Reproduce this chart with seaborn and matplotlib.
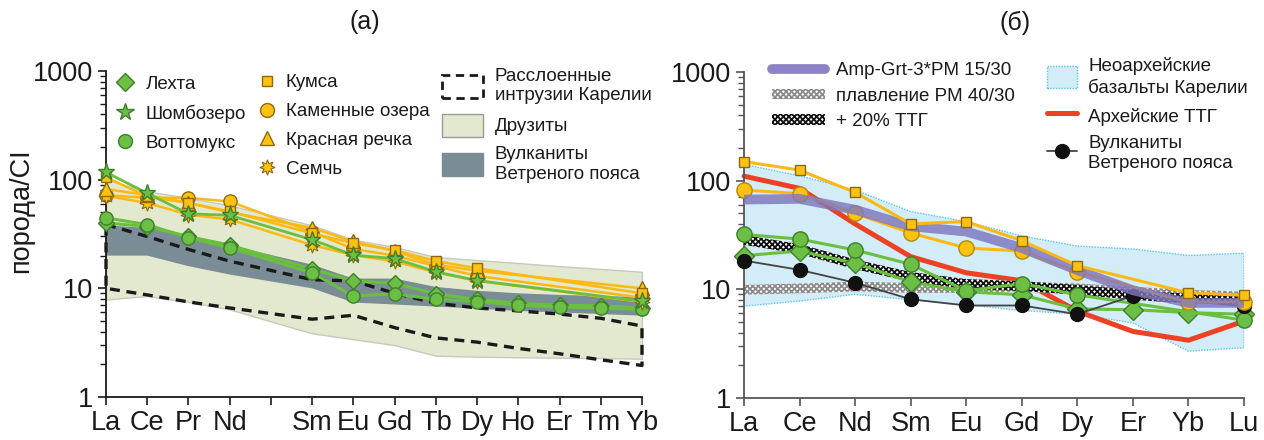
import numpy as np
import pandas as pd
import matplotlib
matplotlib.use("Agg")
import matplotlib.pyplot as plt
import seaborn as sns
from matplotlib.lines import Line2D
from matplotlib.patches import Patch
from matplotlib.ticker import LogLocator, NullFormatter, FixedLocator, FixedFormatter

nan = np.nan

# ---------------- data: panel (a) ----------------
left_elements = ['La', 'Ce', 'Pr', 'Nd', 'Pm', 'Sm', 'Eu', 'Gd', 'Tb', 'Dy', 'Ho', 'Er', 'Tm', 'Yb']
left_tick_labels = ['La', 'Ce', 'Pr', 'Nd', '', 'Sm', 'Eu', 'Gd', 'Tb', 'Dy', 'Ho', 'Er', 'Tm', 'Yb']

lekhta = [40, 37, 30, 25, nan, 15, 11.7, 11.1, 8.9, 7.9, 7.3, 7.0, 6.9, 6.6]
vottomuks = [44.5, 38.6, 29.2, 23.6, nan, 13.9, 8.5, 8.9, 7.9, 7.55, 7.0, 6.7, 6.6, 6.4]
shombozero = [117, 75, 48.5, 47, nan, 28, 20.2, 18.8, 14.2, 11.8, nan, nan, nan, 7.6]
kumsa = [105, 70, 61, 51, nan, 32, 26, 22.5, 17.8, 15.3, nan, nan, nan, 9.0]
kamennye = [72, 68, 68, 63, nan, 33, 23, 20, 16, 13, nan, nan, nan, 8.2]
krasnaya = [82, 72, 61, 50, nan, 36, 27, 22, 16.5, 14.5, nan, nan, nan, 10]
semch = [71, 61, 47.6, 43, nan, 25, 20.2, 17.7, 14, 11.7, nan, nan, nan, 7.5]

druzite_upper = [100, 78, 68, 58, nan, 38, 28, 24, 19.4, 18.2, 17.1, 16.0, 15.1, 14.2]
druzite_lower = [7.9, 8.5, 7.5, 6.4, nan, 3.85, 3.4, 3.0, 2.4, 2.35, 2.32, 2.3, 2.28, 2.25]
volc_upper = [38, 36, 30, 25, nan, 16.5, 12.3, 12.3, 10.3, 9.5, 9.0, 8.7, 8.5, 8.3]
volc_lower = [20, 20, 16, 13.4, nan, 10, 7.4, 7.1, 6.8, 6.5, 6.2, 6.0, 5.8, 5.6]
layered_upper = [38.6, 30, 22.8, 17.8, nan, 12, 11.7, 9, 7.3, 6.6, 6.2, 5.8, 5.3, 4.5]
layered_lower = [10, 8.7, 7.5, 6.6, nan, 5.2, 5.65, 4.35, 3.5, 3.2, 2.8, 2.5, 2.2, 1.95]

# ---------------- data: panel (б) ----------------
right_elements = ['La', 'Ce', 'Nd', 'Sm', 'Eu', 'Gd', 'Dy', 'Er', 'Yb', 'Lu']

r_kumsa = [150, 125, 78, 40, 42, 28, 16.5, nan, 9.3, 8.8]
r_kamennye = [82, 76, 50, 33, 24, 22.5, 14.5, nan, 7.6, 7.7]
r_ttg = [110, 85, 40, 20, 14.2, 12, 6.3, 4.1, 3.4, 5.1]
r_amp = [67, 68, 54, 38, 34, 24, 15, 9.8, 7.5, 7.5]
r_pm_melt = [9.9, 10.2, 10.6, 10.3, 10.3, 10.6, 10.2, 9.5, 8.9, 8.6]
r_ttg20 = [28.5, 23.5, 17, 13, 11.2, 10.7, 9.9, 8.9, 8.2, 8.1]
r_green_circ = [32, 29, 23, 17, 9.7, 11.3, 8.9, nan, nan, 5.2]
r_green_diam = [20.4, 22.5, 17.4, 11.7, 9.5, 8.9, 6.6, 6.5, 6.1, 5.9]
r_volc = [18.4, 15.1, 11.5, 8.1, 7.1, 7.1, 5.9, 8.7, nan, 7.0]
r_basalt_upper = [141, 111, 82, 52, 42, 31, 25, 23.5, 20.5, 21.5]
r_basalt_lower = [7.0, 7.8, 9.0, 8.0, 7.2, 6.4, 5.9, 4.9, 2.7, 2.9]

ytick_values = [1, 10, 100, 1000]
ytick_labels = ['1', '10', '100', '1000']

# ---------------- style ----------------
sns.set_style("ticks")
plt.rcParams['font.family'] = ['Liberation Sans', 'DejaVu Sans']
plt.rcParams['hatch.linewidth'] = 1.3

GREEN = '#6cbf45'
GREEN_E = '#3d7f2a'
GREEN_L = '#6abf3f'
ORANGE = '#fdb913'
ORANGE_M = '#ffc20e'
ORANGE_E = '#8a6a10'
RED = '#ee4123'
PURPLE = '#7f76bf'
BLUE_F = '#d2ecf8'
BLUE_E = '#5cc3ee'
DRUZ = '#e3e9cf'
DRUZ_E = '#c6c9c0'
DARK = '#7a8c95'

fig = plt.figure(figsize=(12.64, 4.40), dpi=100)
axL = fig.add_axes([106 / 1264, 43 / 440, 536 / 1264, 326 / 440])
axR = fig.add_axes([744 / 1264, 42 / 440, 500 / 1264, 326 / 440])


def clean(xs, ys):
    d = pd.DataFrame({'x': xs, 'y': ys}).dropna()
    return d


def series(ax, xs, ys, color, lw, marker=None, ms=9, mfc=None, mec=None, z=3, mew=1.0):
    d = clean(xs, ys)
    sns.lineplot(data=d, x='x', y='y', ax=ax, color=color, linewidth=lw, marker=marker,
                 markersize=ms, markerfacecolor=mfc if mfc else color,
                 markeredgecolor=mec if mec else color, markeredgewidth=mew,
                 sort=False, estimator=None, zorder=z, clip_on=False, legend=False)


# ================= panel (a) =================
xl = np.arange(len(left_elements))
d_up = clean(xl, druzite_upper)
d_lo = clean(xl, druzite_lower)
axL.fill_between(d_up['x'], d_up['y'], d_lo['y'], facecolor=DRUZ, edgecolor=DRUZ_E, linewidth=1.0, zorder=1)
v_up = clean(xl, volc_upper)
v_lo = clean(xl, volc_lower)
axL.fill_between(v_up['x'], v_up['y'], v_lo['y'], facecolor=DARK, edgecolor='none', linewidth=0, zorder=1.5)
l_up = clean(xl, layered_upper)
l_lo = clean(xl, layered_lower)
lx = list(l_up['x']) + list(l_lo['x'])[::-1] + [l_up['x'].iloc[0]]
ly = list(l_up['y']) + list(l_lo['y'])[::-1] + [l_up['y'].iloc[0]]
axL.plot(lx, ly, color='#1a1a1a', linestyle=(0, (3, 2)), linewidth=2.4, zorder=2, clip_on=False)

series(axL, xl, lekhta, GREEN_L, 2.2, 'D', 8.5, GREEN, GREEN_E, z=4)
series(axL, xl, vottomuks, GREEN_L, 2.2, 'o', 9.5, GREEN, GREEN_E, z=4)
series(axL, xl, kamennye, ORANGE, 1.8, 'o', 9.5, ORANGE_M, ORANGE_E, z=5)
series(axL, xl, semch, ORANGE, 1.8, (8, 1, 0), 11, ORANGE_M, ORANGE_E, z=5, mew=0.8)
series(axL, xl, krasnaya, ORANGE, 1.8, '^', 9.5, ORANGE_M, ORANGE_E, z=5)
series(axL, xl, kumsa, ORANGE, 1.8, 's', 7, ORANGE_M, ORANGE_E, z=5)
series(axL, xl, shombozero, GREEN_L, 2.0, '*', 12.5, GREEN, GREEN_E, z=6)

# ================= panel (б) =================
xr = np.arange(len(right_elements))
axR.fill_between(xr, r_basalt_upper, r_basalt_lower, facecolor=BLUE_F, edgecolor=BLUE_E,
                 linewidth=1.0, linestyle=(0, (1, 1)), zorder=1)
series(axR, xr, r_ttg, RED, 3.6, None, z=2)
band = 1.11
axR.fill_between(xr, np.array(r_pm_melt) * band, np.array(r_pm_melt) / band, facecolor='white',
                 edgecolor='#8c8c8c', hatch='xxxxxx', linewidth=0, zorder=2.5)
axR.fill_between(xr, np.array(r_ttg20) * band, np.array(r_ttg20) / band, facecolor='white',
                 edgecolor='#111111', hatch='xxxxxx', linewidth=0, zorder=2.6)
series(axR, xr, r_green_diam, GREEN_L, 2.2, 'D', 10, GREEN, GREEN_E, z=4)
series(axR, xr, r_green_circ, GREEN_L, 2.2, 'o', 11, GREEN, GREEN_E, z=4)
series(axR, xr, r_volc, '#444444', 1.3, 'o', 10, '#111111', '#111111', z=4.5)
series(axR, xr, r_kamennye, ORANGE, 2.2, 'o', 11, ORANGE_M, '#b08a10', z=5)
d_amp = clean(xr, r_amp)
axR.plot(d_amp['x'], d_amp['y'], color=PURPLE, linewidth=7, alpha=0.82, zorder=5.5,
         solid_capstyle='butt', solid_joinstyle='round')
series(axR, xr, r_kumsa, ORANGE, 2.2, 's', 7.5, ORANGE_M, ORANGE_E, z=6)

# ================= axes formatting =================
for ax, labels, n, spc in [(axL, left_tick_labels, len(left_elements), '#1a1a1a'),
                           (axR, right_elements, len(right_elements), '#555555')]:
    ax.set_yscale('log')
    ax.set_ylim(1, 1000)
    ax.set_xlim(0, n - 1)
    ax.yaxis.set_major_locator(FixedLocator(ytick_values))
    ax.yaxis.set_major_formatter(FixedFormatter(ytick_labels))
    ax.yaxis.set_minor_locator(LogLocator(base=10, subs=np.arange(2, 10)))
    ax.yaxis.set_minor_formatter(NullFormatter())
    ax.set_xticks(np.arange(n))
    ax.set_xticklabels(labels)
    for s in ['top', 'right']:
        ax.spines[s].set_visible(False)
    for s in ['left', 'bottom']:
        ax.spines[s].set_color(spc)
        ax.spines[s].set_linewidth(1.3)
    ax.tick_params(axis='both', which='major', direction='out', length=6, width=1.2,
                   color=spc, labelsize=19.5, labelcolor='#1a1a1a', pad=3)
    ax.tick_params(axis='y', which='minor', direction='out', length=4, width=1.0, color=spc)
    ax.set_xlabel('')
    ax.set_ylabel('')
    ax.patch.set_alpha(0)

axL.set_ylabel('порода/CI', fontsize=19.5, color='#1a1a1a')
axL.yaxis.set_label_coords(-0.135, 0.57)

axL.text(0.483, 1.15, '(a)', transform=axL.transAxes, ha='center', va='center', fontsize=18, color='#1a1a1a')
axR.text(0.542, 1.15, '(б)', transform=axR.transAxes, ha='center', va='center', fontsize=18, color='#1a1a1a')

# ================= legends =================
LFS = 13.5
common = dict(frameon=False, fontsize=LFS, borderpad=0, borderaxespad=0, handletextpad=0.5,
              labelcolor='#1a1a1a')

h1 = [Line2D([], [], linestyle='none', marker='D', ms=9, mfc=GREEN, mec=GREEN_E),
      Line2D([], [], linestyle='none', marker='*', ms=13, mfc=GREEN, mec=GREEN_E),
      Line2D([], [], linestyle='none', marker='o', ms=10, mfc=GREEN, mec=GREEN_E)]
leg1 = axL.legend(h1, ['Лехта', 'Шомбозеро', 'Воттомукс'], loc='upper left',
                  bbox_to_anchor=(0.015, 0.985), handlelength=1.2, labelspacing=0.62, **common)
axL.add_artist(leg1)

h2 = [Line2D([], [], linestyle='none', marker='s', ms=7, mfc=ORANGE_M, mec=ORANGE_E),
      Line2D([], [], linestyle='none', marker='o', ms=10, mfc=ORANGE_M, mec=ORANGE_E),
      Line2D([], [], linestyle='none', marker='^', ms=10, mfc=ORANGE_M, mec=ORANGE_E),
      Line2D([], [], linestyle='none', marker=(8, 1, 0), ms=11, mfc=ORANGE_M, mec=ORANGE_E, mew=0.8)]
leg2 = axL.legend(h2, ['Кумса', 'Каменные озера', 'Красная речка', 'Семчь'], loc='upper left',
                  bbox_to_anchor=(0.283, 0.99), handlelength=1.0, labelspacing=0.62, **common)
axL.add_artist(leg2)

h3 = [Patch(facecolor='none', edgecolor='#1a1a1a', linestyle=(0, (3, 2)), linewidth=2.0),
      Patch(facecolor=DRUZ, edgecolor='#9a9a9a', linewidth=1.0),
      Patch(facecolor=DARK, edgecolor=DARK)]
leg3 = axL.legend(h3, ['Расслоенные\nинтрузии Карелии', 'Друзиты', 'Вулканиты\nВетреного пояса'],
                  loc='upper left', bbox_to_anchor=(0.627, 1.01), handlelength=2.2, handleheight=1.5,
                  labelspacing=0.5, **{**common, 'handletextpad': 0.6})
leg3._legend_box.align = 'left'

h4 = [Line2D([], [], color=PURPLE, lw=7, alpha=0.9, solid_capstyle='round'),
      Patch(facecolor='white', edgecolor='#8c8c8c', hatch='xxxxxx', linewidth=0),
      Patch(facecolor='white', edgecolor='#111111', hatch='xxxxxx', linewidth=0)]
leg4 = axR.legend(h4, ['Amp-Grt-3*PM 15/30', 'плавление PM 40/30', '+ 20% ТТГ'], loc='upper left',
                  bbox_to_anchor=(0.056, 1.03), handlelength=2.8, handleheight=0.5,
                  labelspacing=0.45, **{**common, 'handletextpad': 0.6})
axR.add_artist(leg4)

h5 = [Patch(facecolor=BLUE_F, edgecolor=BLUE_E, linestyle=(0, (1, 1)), linewidth=1.0),
      Line2D([], [], color=RED, lw=3.6),
      Line2D([], [], color='#444444', lw=1.3, marker='o', ms=10, mfc='#111111', mec='#111111')]
leg5 = axR.legend(h5, ['Неоархейские\nбазальты Карелии', 'Архейские ТТГ', 'Вулканиты\nВетреного пояса'],
                  loc='upper left', bbox_to_anchor=(0.606, 1.045), handlelength=1.6, handleheight=1.4,
                  labelspacing=0.45, **{**common, 'handletextpad': 0.6})

fig.savefig('out.png', dpi=100)
